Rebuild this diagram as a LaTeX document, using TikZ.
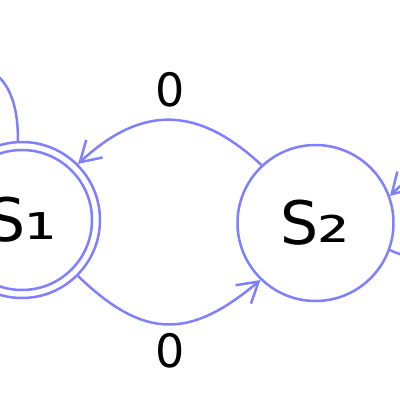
\documentclass[tikz,border=0pt]{standalone}
\usepackage{fontspec}
\setmainfont{DejaVu Sans}
\usetikzlibrary{arrows.meta}
\definecolor{edge}{RGB}{128,128,255}
\newcommand{\subdig}[1]{\kern-1pt\raisebox{2pt}{\scalebox{1.35}[1.1]{#1}}}
\begin{document}
\begin{tikzpicture}[x=1pt,y=-1pt,
  state/.style={circle,draw=edge,line width=2.5pt,minimum size=156pt,inner sep=0pt},
  lbl/.style={font=\fontsize{46}{46}\selectfont,inner sep=0pt},
  tr/.style={draw=edge,line width=2.5pt,-{Straight Barb[length=20pt,width=24pt]}}]
\fill[white] (0,0) rectangle (400,400);
\useasboundingbox (0,0) rectangle (400,400);
\clip (0,0) rectangle (400,400);
\node[state] (S1) at (22,220) {\fontsize{60}{60}\selectfont S\subdig{₁}};
\draw[edge,line width=2.5pt] (S1.center) circle (70pt);
\node[state] (S2) at (315.5,223) {\fontsize{60}{60}\selectfont S\subdig{₂}};
\draw[tr] (S1.93) .. controls (20,20) and (-100,60) .. (S1.160);
\draw[tr] (S2.-20) .. controls +(-24:150pt) and +(45:150pt) .. (S2.20);
\draw[tr] (S2.133) .. controls +(137:87pt) and +(43:87pt) .. (S1.45);
\draw[tr] (S1.-45) .. controls +(-44:92pt) and +(-140:92pt) .. (S2.-134);
\node[lbl] (l1) at (170,89.5) {0};
\node[lbl] (l2) at (170,351) {0};
\end{tikzpicture}
\end{document}
